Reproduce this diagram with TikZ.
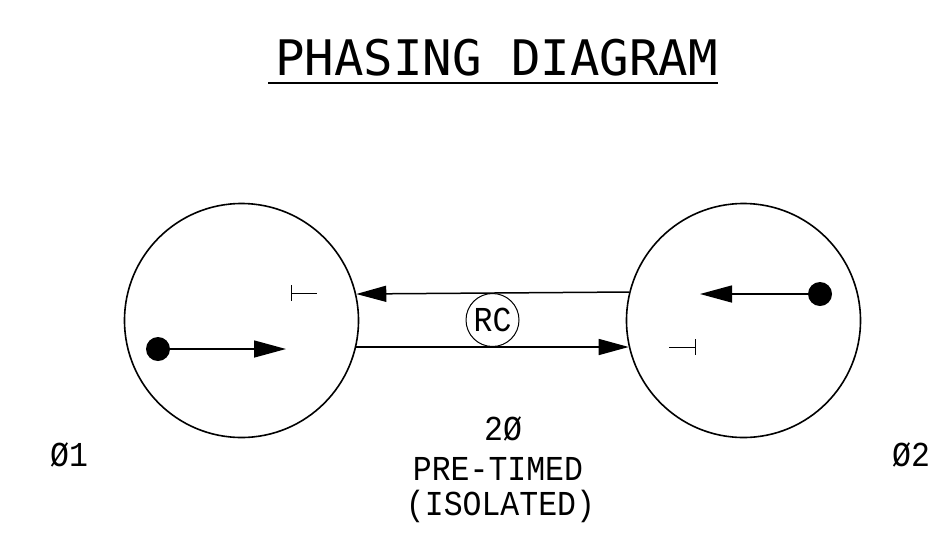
\documentclass[tikz,border=0pt]{standalone}
\usepackage{fontspec}
\newfontfamily\cadfont{DejaVu Sans Mono}
\newfontfamily\cadthin[FakeStretch=0.9]{Liberation Mono}
\usetikzlibrary{arrows.meta}
\begin{document}
\begin{tikzpicture}[x=1pt,y=-1pt,
  phase/.style={draw,circle,line width=1.6pt,minimum size=234pt,inner sep=0pt},
  dotnode/.style={circle,fill=black,minimum size=24pt,inner sep=0pt},
  vec/.style={line width=1.5pt,-{Triangle[length=32pt,width=17pt]}},
  link/.style={line width=1.5pt,-{Triangle[length=30pt,width=16pt]}},
  tmark/.style={line width=1pt},
  lbl/.style={font=\cadthin\fontsize{35}{38}\selectfont,inner sep=0pt},
  ttl/.style={font=\cadfont\fontsize{49}{54}\selectfont,inner sep=0pt}]
\useasboundingbox[fill=white] (0,0) rectangle (948,550);
% title
\node[ttl,anchor=base] (title) at (496.5,75) {PHASING DIAGRAM};
\coordinate (ul1) at (268,83);
\coordinate (ul2) at (718,83);
\draw[line width=1.4pt] (ul1) -- (ul2);
% phase circles
\node[phase] (L) at (241.5,320.5) {};
\node[phase] (R) at (743.5,320.5) {};
% RC circle
\node[draw,circle,line width=1pt,minimum size=53pt,inner sep=0pt,lbl] (rc) at (492.5,320) {RC};
% connectors between circles
\draw[link] (R.166.4) -- (L.13.6);
\draw[link] (L.-13.6) -- (R.193.6);
% left phase movement
\node[dotnode] (d1) at (158,349) {};
\coordinate (e1) at (286,349);
\draw[vec] (d1.center) -- (e1);
% right phase movement
\node[dotnode] (d2) at (820,294) {};
\coordinate (e2) at (700,294);
\draw[vec] (d2.center) -- (e2);
% T marks
\coordinate (t1a) at (291,285);
\coordinate (t1b) at (291,301);
\coordinate (t1c) at (291,293);
\coordinate (t1d) at (317,293);
\draw[tmark] (t1a) -- (t1b);
\draw[tmark] (t1c) -- (t1d);
\coordinate (t2a) at (695,339);
\coordinate (t2b) at (695,355);
\coordinate (t2c) at (669,347);
\coordinate (t2d) at (695,347);
\draw[tmark] (t2a) -- (t2b);
\draw[tmark] (t2c) -- (t2d);
% labels
\node[lbl,anchor=base west] (p1) at (50,466) {Ø1};
\node[lbl,anchor=base west] (p2) at (892,466) {Ø2};
\node[lbl,anchor=base] (c1) at (503,440) {2Ø};
\node[lbl,anchor=base] (c2) at (498,480) {PRE-TIMED};
\node[lbl,anchor=base] (c3) at (500.5,515) {(ISOLATED)};
\end{tikzpicture}
\end{document}
